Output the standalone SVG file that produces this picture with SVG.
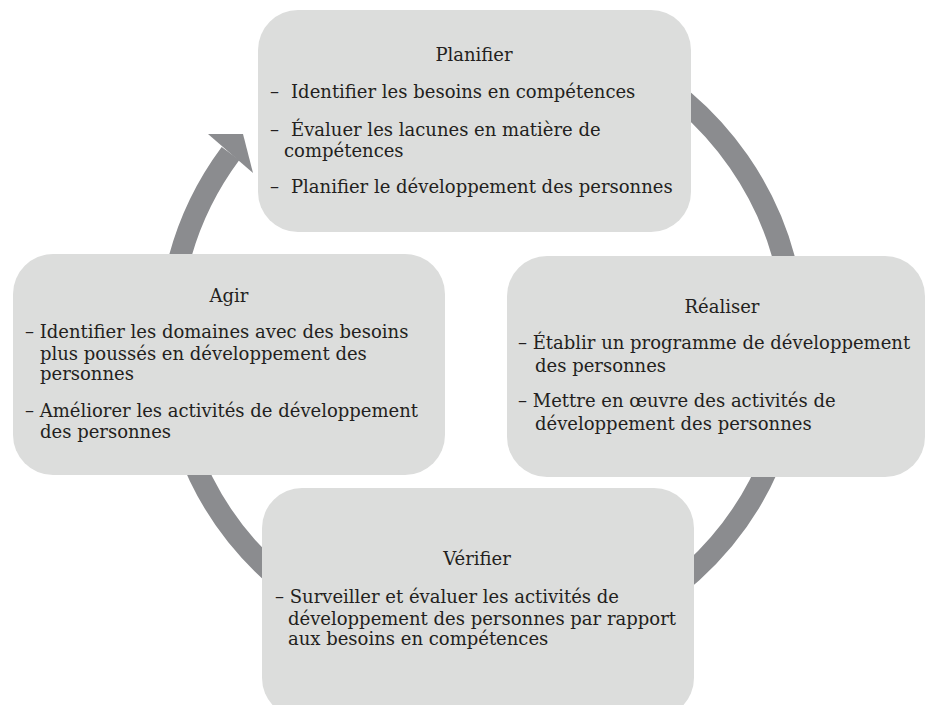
<svg xmlns="http://www.w3.org/2000/svg" width="925" height="705" viewBox="0 0 925 705">
<style>
.box{fill:#dcdddc}
.ring{fill:none;stroke:#8b8c8f;stroke-width:22}
.head{fill:#8b8c8f}
text{font-family:"DejaVu Serif","Liberation Serif",serif;font-size:18px;fill:#231f20}
.t{text-anchor:middle}
</style>
<rect width="925" height="705" fill="#ffffff"/>
<g id="connectors">
<path class="ring" d="M 320.5 71.9 A 313 313 0 1 1 230.5 153.5"/>
<polygon class="head" points="208,134 243,134 253,173"/>
</g>
<g id="planifier">
<rect class="box" x="258" y="10" width="433" height="222" rx="40"/>
<text class="t" x="474" y="61">Planifier</text>
<text x="270" y="98">–</text><text x="291" y="98">Identifier les besoins en compétences</text>
<text x="270" y="136">–</text><text x="291" y="136">Évaluer les lacunes en matière de</text>
<text x="284" y="157">compétences</text>
<text x="270" y="193">–</text><text x="291" y="193">Planifier le développement des personnes</text>
</g>
<g id="realiser">
<rect class="box" x="507" y="256" width="418" height="221" rx="40"/>
<text class="t" x="722" y="313">Réaliser</text>
<text x="518" y="349">– Établir un programme de développement</text>
<text x="535" y="372">des personnes</text>
<text x="518" y="407">– Mettre en œuvre des activités de</text>
<text x="535" y="430">développement des personnes</text>
</g>
<g id="agir">
<rect class="box" x="13" y="254" width="432" height="221" rx="40"/>
<text class="t" x="229" y="302">Agir</text>
<text x="25" y="338">– Identifier les domaines avec des besoins</text>
<text x="40" y="360">plus poussés en développement des</text>
<text x="40" y="380">personnes</text>
<text x="25" y="417">– Améliorer les activités de développement</text>
<text x="40" y="438">des personnes</text>
</g>
<g id="verifier">
<rect class="box" x="262" y="488" width="432" height="230" rx="40"/>
<text class="t" x="477" y="565">Vérifier</text>
<text x="275" y="603">– Surveiller et évaluer les activités de</text>
<text x="288" y="625">développement des personnes par rapport</text>
<text x="288" y="645">aux besoins en compétences</text>
</g>
</svg>
